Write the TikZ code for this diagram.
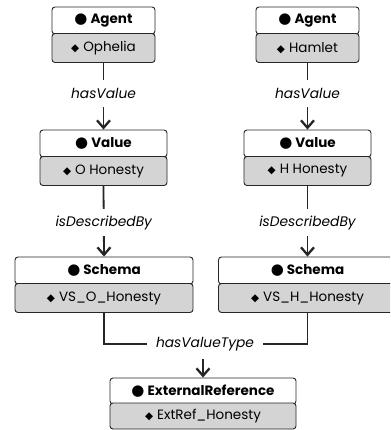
\documentclass[tikz,border=0pt]{standalone}
\usepackage{fontspec}
\setmainfont{Poppins}
\newfontfamily\symfont{DejaVu Sans}
\usetikzlibrary{arrows.meta}
\tikzset{
  box/.style={draw=black!85, line width=0.9pt, rounded corners=3pt, inner sep=0pt, anchor=center},
  hdr/.style={box, fill=white, minimum height=27pt, font=\bfseries\fontsize{13.5}{15}\selectfont},
  bdy/.style={box, fill=black!17, minimum height=29pt, font=\fontsize{13.5}{15}\selectfont},
  lbl/.style={fill=white, inner xsep=9pt, inner ysep=0pt, minimum height=27pt, font=\itshape\fontsize{13.8}{15}\selectfont},
  conn/.style={draw=black!85, line width=1.8pt},
  arr/.style={conn, -{Straight Barb[length=7.5pt,width=13pt,line width=2.3pt]}}
}
\newcommand{\cls}[1]{{\symfont\fontsize{15}{15}\selectfont●}\hspace{3pt}#1}
\newcommand{\ind}[1]{{\symfont\fontsize{10.5}{10}\selectfont◆}\hspace{4pt}#1}
\begin{document}
\begin{tikzpicture}[x=1pt,y=-1pt]
\useasboundingbox (0,0) rectangle (390,430);
\clip (0,0) rectangle (390,430);
% Agents
\node[hdr, minimum width=103pt] (aoh) at (103.5,20.5) {\cls{Agent}};
\node[bdy, minimum width=103pt] (aob) at (103.5,48) {\ind{Ophelia}};
\node[hdr, minimum width=103pt] (ahh) at (307.5,20.5) {\cls{Agent}};
\node[bdy, minimum width=103pt] (ahb) at (307.5,48) {\ind{Hamlet}};
% Values
\node[hdr, minimum width=127pt] (voh) at (103.5,143.5) {\cls{Value}};
\node[bdy, minimum width=127pt] (vob) at (103.5,171) {\ind{O Honesty}};
\node[hdr, minimum width=127pt] (vhh) at (307.5,143.5) {\cls{Value}};
\node[bdy, minimum width=127pt] (vhb) at (307.5,171) {\ind{H Honesty}};
% Schemas
\node[hdr, minimum width=178pt] (soh) at (104,270.5) {\cls{Schema}};
\node[bdy, minimum width=178pt] (sob) at (104,298) {\ind{VS\_O\_Honesty}};
\node[hdr, minimum width=178pt] (shh) at (307.5,270.5) {\cls{Schema}};
\node[bdy, minimum width=178pt] (shb) at (307.5,298) {\ind{VS\_H\_Honesty}};
% External reference
\node[hdr, minimum width=186pt, minimum height=26pt] (exh) at (203,391) {\cls{ExternalReference}};
\node[bdy, minimum width=186pt, minimum height=26pt] (exb) at (203,416) {\ind{ExtRef\_Honesty}};
% connectors
\draw[arr] (aob.south) -- node[lbl, pos=0.46] {hasValue} (voh.north);
\draw[arr] (ahb.south) -- node[lbl, pos=0.46] {hasValue} (vhh.north);
\draw[arr] (vob.south) -- node[lbl, pos=0.52] {isDescribedBy} (soh.north);
\draw[arr] (vhb.south) -- node[lbl, pos=0.52] {isDescribedBy} (shh.north);
\coordinate (j) at (203,344);
\draw[conn] (sob.south) |- (j);
\draw[conn] (shb.south) |- (j);
\draw[arr] (j) -- (exh.north);
\node[lbl, minimum height=30pt] (hvt) at (205,344) {hasValueType};
\end{tikzpicture}
\end{document}
